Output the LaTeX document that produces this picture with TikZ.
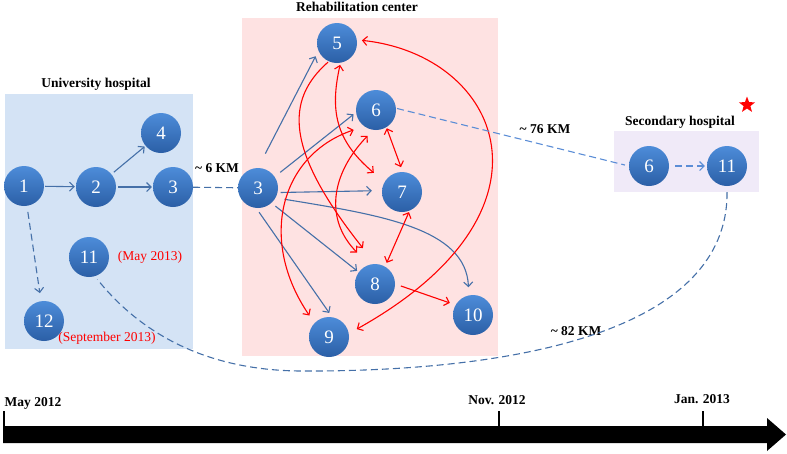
\documentclass[tikz,border=0pt]{standalone}
\usepackage{fontspec}
\setmainfont{Liberation Serif}
\usetikzlibrary{arrows.meta,shapes.geometric}
\definecolor{uhfill}{HTML}{D4E3F5}
\definecolor{rcfill}{HTML}{FEE2E2}
\definecolor{shfill}{HTML}{F0EAF8}
\definecolor{balltop}{HTML}{4D8CD9}
\definecolor{ballbot}{HTML}{2B5FA6}
\definecolor{steel}{HTML}{4570A8}
\definecolor{skyline}{HTML}{5B8DD6}
\definecolor{hred}{HTML}{FF0000}

\begin{document}
\begin{tikzpicture}[x=1pt,y=-1pt,
  ball/.style={circle, minimum size=40pt, inner sep=0pt, top color=balltop, bottom color=ballbot, text=white, font=\fontsize{19}{19}\selectfont},
  title/.style={font=\fontsize{13.5}{14}\selectfont\bfseries},
  note/.style={font=\fontsize{13.5}{14}\selectfont, text=hred},
  barb/.tip={Straight Barb[length=4.5pt,width=9pt]},
  blink/.style={draw=steel, line width=1.1pt, -barb},
  rlink/.style={draw=hred, line width=1.1pt, -barb},
  rboth/.style={draw=hred, line width=1.1pt, barb-barb},
  dlink/.style={draw=steel, line width=1.1pt, dash pattern=on 7pt off 4pt},
  slink/.style={draw=skyline, line width=1.1pt, dash pattern=on 7pt off 4pt},
]
\useasboundingbox (0,0) rectangle (787,453);
\fill[uhfill] (5,94) rectangle (193,349);
\fill[rcfill] (242,18) rectangle (498,356);
\fill[shfill] (614,131) rectangle (759,192);
\node[title] (uhtitle) at (96,84) {University hospital};
\node[title] (rctitle) at (357,7) {Rehabilitation center};
\node[title] (shtitle) at (680,122) {Secondary hospital};
\node[star, star points=5, star point ratio=2.4, fill=hred, inner sep=0pt, minimum size=17pt] (mark) at (747,105) {};
\node[ball] (UH1) at (24,186) {1};
\node[ball] (UH2) at (96,187) {2};
\node[ball] (UH3) at (173,187) {3};
\node[ball] (UH4) at (161,133) {4};
\node[ball] (UH11) at (89,257) {11};
\node[ball] (UH12) at (44,321) {12};
\node[note] (may13) at (150,257) {(May 2013)};
\node[note] (sep13) at (107,338) {(September 2013)};
\node[ball] (RC3) at (258,188) {3};
\node[ball] (RC5) at (337,43) {5};
\node[ball] (RC6) at (376,110) {6};
\node[ball] (RC7) at (402,192) {7};
\node[ball] (RC8) at (375,284) {8};
\node[ball] (RC9) at (329,337) {9};
\node[ball] (RC10) at (473,315) {10};
\node[ball] (SH6) at (649,166) {6};
\node[ball] (SH11) at (727,166) {11};
\node[title] (km6) at (217,168) {\textasciitilde{} 6 KM};
\node[title] (km76) at (545,129) {\textasciitilde{} 76 KM};
\node[title] (km82) at (576,331) {\textasciitilde{} 82 KM};
\draw[blink, shorten <=1pt, shorten >=1pt] (UH1) -- (UH2);
\draw[blink, shorten <=3pt, shorten >=1pt] (UH2) -- (UH4);
\draw[blink, shorten <=2pt, shorten >=1pt] (UH2) -- (UH3);
\draw[dlink, -barb, shorten <=6pt, shorten >=8pt] (UH1) -- (UH12);
\draw[dlink] (UH3) -- (RC3);
\draw[blink, shorten <=16pt, shorten >=6pt] (RC3.90) -- (RC5.203);
\draw[blink, shorten <=7pt, shorten >=3pt] (RC3.34) -- (RC6.187);
\draw[blink, shorten <=3pt, shorten >=10pt] (RC3.347) -- (RC7.176);
\draw[blink, shorten <=9pt, shorten >=8pt] (RC3.331) .. controls (380,215) and (466,228) .. (RC10.102);
\draw[blink, shorten <=5pt, shorten >=2pt] (RC3.312) -- (RC8.144);
\draw[blink, shorten <=5pt, shorten >=5pt] (RC3.265) -- (RC9.81);
\draw[rlink, shorten <=1pt, shorten >=20pt] (RC5.246) .. controls (285,100) and (285,150) .. (RC8.89);
\draw[rboth, shorten <=2pt, shorten >=14pt] (RC5.280) .. controls (330,110) and (335,140) .. (RC7.150);
\draw[rboth, shorten <=8pt, shorten >=17pt] (RC6.262) .. controls (330,175) and (325,220) .. (RC8.107);
\draw[rboth, shorten <=11pt, shorten >=9pt] (RC6.234) .. controls (280,155) and (258,240) .. (RC9.136);
\draw[rboth, shorten <=1pt, shorten >=5pt] (RC6.301) -- (RC7.88);
\draw[rboth, shorten <=1.5pt, shorten >=4pt] (RC7.292) -- (RC8.60);
\draw[rlink, shorten <=6pt, shorten >=6pt] (RC8.0) -- (RC10.150);
\draw[rboth, shorten <=5pt, shorten >=9pt] (RC5.9) .. controls (500,55) and (570,210) .. (RC9.10);
\draw[slink, shorten <=1pt, shorten >=4pt] (RC6.5) -- (SH6.180);
\draw[slink, -barb, shorten <=6pt, shorten >=2pt] (SH6) -- (SH11);
\draw[dlink, shorten <=6pt, shorten >=4pt] (SH11.270) .. controls (728,330) and (520,372) .. (300,371) .. controls (190,370) and (130,320) .. (UH11.287);
\fill (3,426) -- (767,426) -- (767,418) -- (786,434.5) -- (767,451) -- (767,443) -- (3,443) -- cycle;
\draw[line width=2.4pt] (4,427) -- (4,411);
\draw[line width=2.4pt] (499,427) -- (499,411);
\draw[line width=2.4pt] (703,427) -- (703,411);
\node[title] (tmay) at (33,403) {May 2012};
\node[title] (tnov) at (497,400) {Nov. 2012};
\node[title] (tjan) at (702,399) {Jan. 2013};
\end{tikzpicture}
\end{document}
